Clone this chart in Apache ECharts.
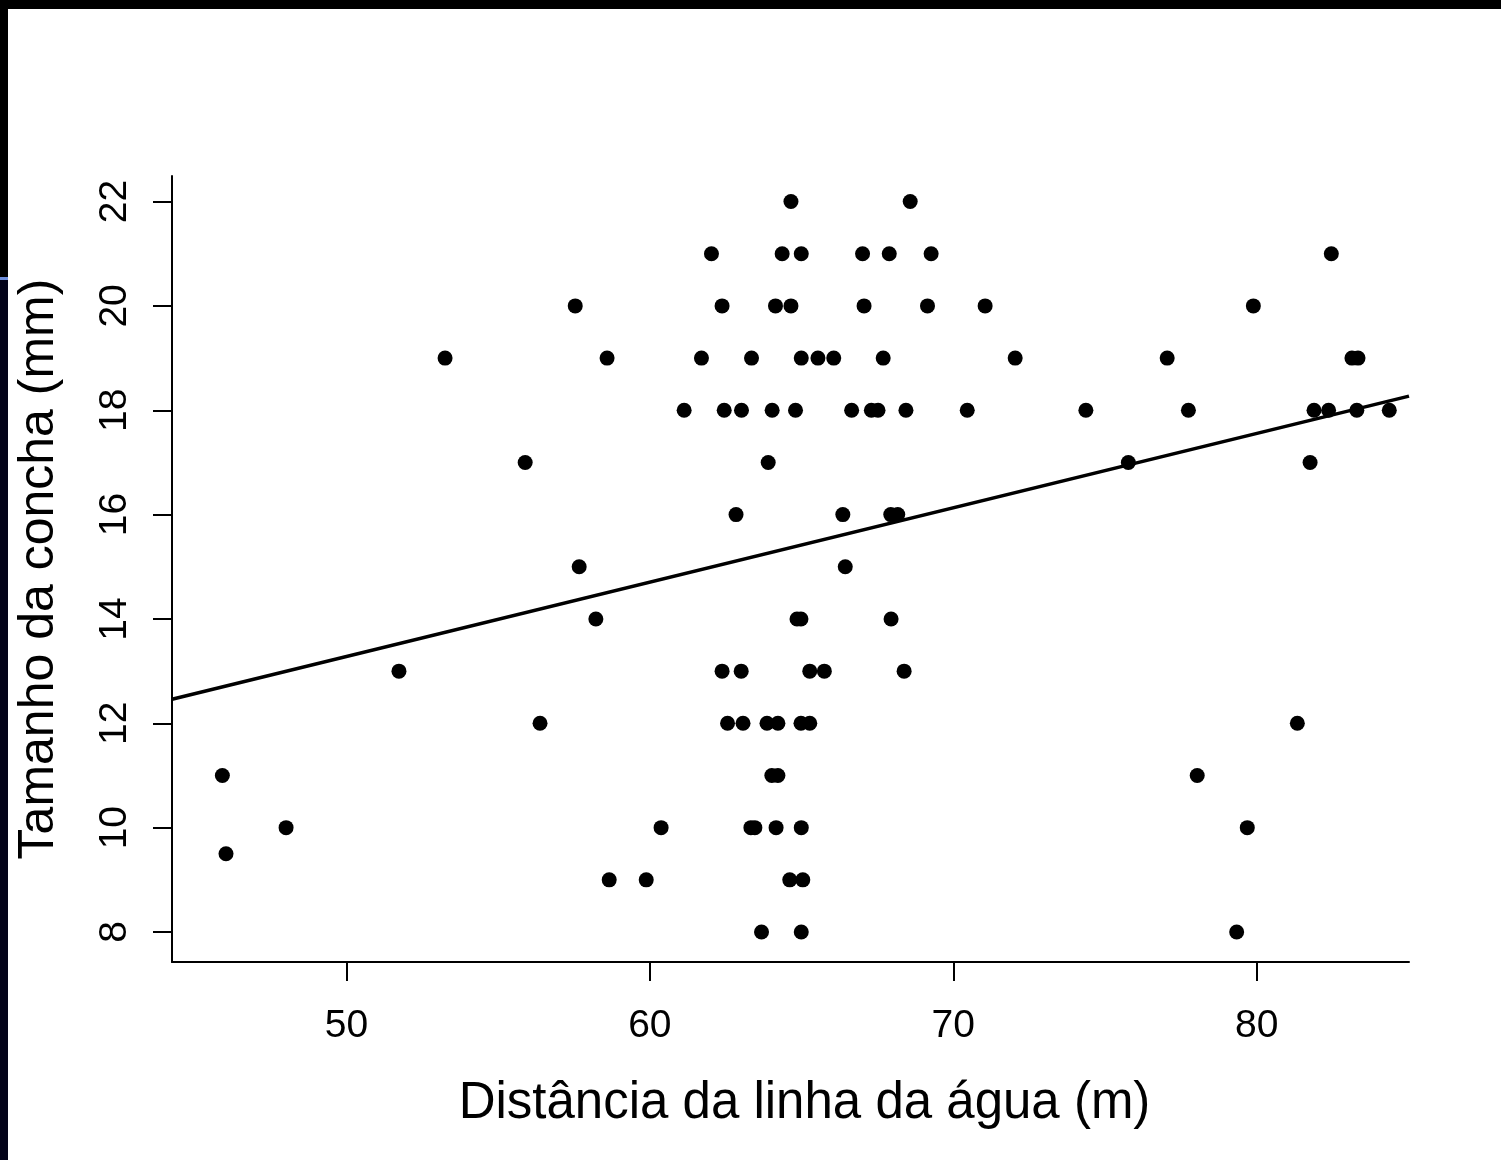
<!DOCTYPE html>
<html>
<head>
<meta charset="utf-8">
<title>Tamanho da concha vs distância</title>
<script src="https://cdn.jsdelivr.net/npm/echarts@6/dist/echarts.min.js"></script>
<style>
  html, body { margin: 0; padding: 0; background: #ffffff; }
  #chart { width: 1501px; height: 1160px; }
</style>
</head>
<body>
<div id="chart"></div>
<script>
// 数据：距离 (m) 与壳长 (mm)，按行从上到下读出
const distX = [
  64.65, 68.58,                                                        // 22
  62.03, 64.36, 64.99, 67.01, 67.89, 69.27, 82.46,                     // 21
  57.54, 62.38, 64.14, 64.65, 67.06, 69.15, 71.05, 79.89,              // 20
  53.25, 58.59, 61.70, 63.35, 64.99, 65.54, 66.06, 67.69, 72.04, 77.05, 83.14, 83.34, // 19
  61.13, 62.45, 63.02, 64.03, 64.80, 66.65, 67.30, 67.52, 68.44, 70.46, 74.37, 77.75, 81.89, 82.37, 83.30, 84.37, // 18
  55.89, 63.90, 75.77, 81.76,                                          // 17
  62.84, 66.36, 67.94, 68.17,                                          // 16
  57.67, 66.44,                                                        // 15
  58.22, 64.85, 64.98, 67.95,                                          // 14
  51.73, 62.38, 63.01, 65.27, 65.75, 68.38,                            // 13
  56.38, 62.56, 63.07, 63.86, 64.22, 64.98, 65.27, 81.34,              // 12
  45.91, 64.02, 64.22, 78.04,                                          // 11
  48.01, 60.37, 63.33, 63.46, 64.16, 64.99, 79.69,                     // 10
  46.03,                                                               // 9.5
  58.66, 59.88, 64.61, 65.04,                                          // 9
  63.68, 64.99, 79.34                                                  // 8
];

const shellSize = [
  22, 22,
  21, 21, 21, 21, 21, 21, 21,
  20, 20, 20, 20, 20, 20, 20, 20,
  19, 19, 19, 19, 19, 19, 19, 19, 19, 19, 19, 19,
  18, 18, 18, 18, 18, 18, 18, 18, 18, 18, 18, 18, 18, 18, 18, 18,
  17, 17, 17, 17,
  16, 16, 16, 16,
  15, 15,
  14, 14, 14, 14,
  13, 13, 13, 13, 13, 13,
  12, 12, 12, 12, 12, 12, 12, 12,
  11, 11, 11, 11,
  10, 10, 10, 10, 10, 10, 10,
  9.5,
  9, 9, 9, 9,
  8, 8, 8
];

// 回归直线的两个端点（取坐标轴两端）
const fitLine = [[44.25, 12.46], [85.02, 18.27]];

// 坐标轴范围与刻度
const xRange = [44.25, 85.02];
const yRange = [7.425, 22.49];
const xTicks = [50, 60, 70, 80];
const yTicks = [8, 10, 12, 14, 16, 18, 20, 22];

const FONT = "'Liberation Sans', Arial, Helvetica, sans-serif";

function init() {
  const chart = echarts.init(document.getElementById('chart'), null, { renderer: 'canvas' });

  const points = distX.map((x, i) => [x, shellSize[i]]);

  const option = {
    backgroundColor: '#ffffff',
    animation: false,
    graphic: [
      // 外框：上、左黑边和左侧蓝线
      { type: 'rect', left: 0, top: 0, shape: { width: 1501, height: 9 }, style: { fill: '#000000' } },
      { type: 'rect', left: 0, top: 0, shape: { width: 8, height: 277 }, style: { fill: '#000000' } },
      { type: 'rect', left: 0, top: 280, shape: { width: 8, height: 880 }, style: { fill: '#04041a' } },
      { type: 'rect', left: 0, top: 277, shape: { width: 8, height: 3 }, style: { fill: '#6f8fdc' } }
    ],
    grid: {
      left: 172,
      right: 92,
      top: 176,
      bottom: 198,
      containLabel: false,
      outerBoundsMode: 'none'
    },
    xAxis: {
      type: 'value',
      min: xRange[0],
      max: xRange[1],
      name: 'Distância da linha da água (m)',
      nameLocation: 'middle',
      nameGap: 116,
      nameMoveOverlap: false,
      nameTextStyle: { fontFamily: FONT, fontSize: 51, color: '#000', padding: [0, 0, 0, 28] },
      splitLine: { show: false },
      axisLine: { show: true, lineStyle: { color: '#000', width: 2 } },
      axisTick: { show: true, inside: false, length: 19, customValues: xTicks, lineStyle: { color: '#000', width: 2 } },
      axisLabel: {
        customValues: xTicks,
        margin: 45,
        fontFamily: FONT,
        fontSize: 39,
        color: '#000'
      }
    },
    yAxis: {
      type: 'value',
      min: yRange[0],
      max: yRange[1],
      name: 'Tamanho da concha (mm)',
      nameLocation: 'middle',
      nameGap: 108,
      nameRotate: 90,
      nameMoveOverlap: false,
      nameTextStyle: { fontFamily: FONT, fontSize: 50, color: '#000' },
      splitLine: { show: false },
      axisLine: { show: true, lineStyle: { color: '#000', width: 2 } },
      axisTick: { show: true, inside: false, length: 19, customValues: yTicks, lineStyle: { color: '#000', width: 2 } },
      axisLabel: {
        customValues: yTicks,
        rotate: 90,
        margin: 37,
        fontFamily: FONT,
        fontSize: 39,
        color: '#000'
      }
    },
    series: [
      {
        name: 'pontos',
        type: 'scatter',
        data: points,
        symbol: 'circle',
        symbolSize: 15,
        itemStyle: { color: '#000000', opacity: 1 },
        z: 3
      },
      {
        name: 'ajuste',
        type: 'line',
        data: fitLine,
        showSymbol: false,
        symbol: 'none',
        lineStyle: { color: '#000000', width: 3.5 },
        z: 2
      }
    ]
  };

  chart.setOption(option);
}

if (document.readyState === 'loading') {
  document.addEventListener('DOMContentLoaded', init);
} else {
  init();
}
</script>
</body>
</html>
